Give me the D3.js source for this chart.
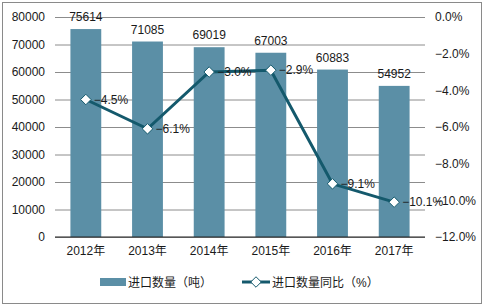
<!DOCTYPE html>
<html>
<head>
<meta charset="utf-8">
<script src="https://cdn.jsdelivr.net/npm/d3@7"></script>
<style>
  body { margin: 0; background: #fff; }
  text { font-family: "Liberation Sans", Arial, "Noto Sans CJK SC", sans-serif; font-size: 12px; fill: #1a1a1a; }
</style>
</head>
<body>
<div id="chart"></div>
<script>
const years = ["2012年", "2013年", "2014年", "2015年", "2016年", "2017年"];
const volume = [75614, 71085, 69019, 67003, 60883, 54952];
const growth = [-4.5, -6.1, -3.0, -2.9, -9.1, -10.1];
const leftTicks = [0, 10000, 20000, 30000, 40000, 50000, 60000, 70000, 80000];
const rightTicks = [0, -2, -4, -6, -8, -10, -12];
const barName = "进口数量（吨）";
const lineName = "进口数量同比（%）";

const width = 484, height = 307;
const margin = {top: 17, right: 59, bottom: 70, left: 55};
const barColor = "#5b8fa6", lineColor = "#14596c";

const svg = d3.select("#chart").append("svg")
    .attr("width", width).attr("height", height);

svg.append("rect")
    .attr("x", 2.5).attr("y", 2.5)
    .attr("width", width - 5).attr("height", height - 6)
    .attr("fill", "none").attr("stroke", "#8a8a8a");

const x = d3.scaleBand().domain(years)
    .range([margin.left, width - margin.right]).paddingInner(0.5).paddingOuter(0.25);
const y = d3.scaleLinear().domain([0, 80000])
    .range([height - margin.bottom, margin.top]);
const y2 = d3.scaleLinear().domain([-12, 0])
    .range([height - margin.bottom, margin.top]);

// gridlines
svg.append("g")
    .attr("transform", "translate(" + margin.left + ",0)")
    .call(d3.axisLeft(y).tickValues(leftTicks).tickSize(-(width - margin.left - margin.right)).tickFormat(""))
    .call(g => g.select(".domain").remove())
    .call(g => g.selectAll("line").attr("stroke", "#8c8c8c"));

// left labels
svg.append("g")
    .attr("transform", "translate(" + (margin.left - 10) + ",0)")
    .call(d3.axisLeft(y).tickValues(leftTicks).tickSize(0).tickPadding(0).tickFormat(d3.format("d")))
    .call(g => g.select(".domain").remove())
    .call(g => g.selectAll("text").attr("font-size", 12).attr("font-family", null));

// right labels
svg.append("g")
    .attr("transform", "translate(" + (width - margin.right + 10) + ",0)")
    .call(d3.axisRight(y2).tickValues(rightTicks).tickSize(0).tickPadding(0).tickFormat(d => d3.format(".1f")(d) + "%"))
    .call(g => g.select(".domain").remove())
    .call(g => g.selectAll("text").attr("font-size", 12).attr("font-family", null));

// bars
svg.selectAll(".bar").data(volume).enter().append("rect")
    .attr("class", "bar")
    .attr("x", (d, i) => x(years[i]))
    .attr("y", d => y(d))
    .attr("width", x.bandwidth())
    .attr("height", d => y(0) - y(d))
    .attr("fill", barColor);

// baseline
svg.append("line")
    .attr("x1", margin.left).attr("x2", width - margin.right)
    .attr("y1", y(0)).attr("y2", y(0))
    .attr("stroke", "#222").attr("stroke-width", 1.2);

// x labels
svg.append("g")
    .attr("transform", "translate(0," + y(0) + ")")
    .call(d3.axisBottom(x).tickSize(0).tickPadding(9))
    .call(g => g.select(".domain").remove())
    .call(g => g.selectAll("text").attr("font-size", 12).attr("font-family", null));

// bar value labels
svg.selectAll(".bar-label").data(volume).enter().append("text")
    .attr("x", (d, i) => x(years[i]) + x.bandwidth() / 2)
    .attr("y", d => y(d) - 8)
    .attr("text-anchor", "middle")
    .text(d => d);

// line
const cx = i => x(years[i]) + x.bandwidth() / 2;
const line = d3.line().x((d, i) => cx(i)).y(d => y2(d));
svg.append("path").datum(growth)
    .attr("d", line)
    .attr("fill", "none")
    .attr("stroke", lineColor)
    .attr("stroke-width", 3);

const diamond = d3.symbol().type(d3.symbolDiamond2).size(70);
svg.selectAll(".mk").data(growth).enter().append("path")
    .attr("transform", (d, i) => "translate(" + cx(i) + "," + y2(d) + ")")
    .attr("d", diamond)
    .attr("fill", "#fff")
    .attr("stroke", lineColor)
    .attr("stroke-width", 1);

svg.selectAll(".line-label").data(growth).enter().append("text")
    .attr("x", (d, i) => cx(i) + 8)
    .attr("y", d => y2(d) + 4)
    .text(d => d3.format(".1f")(d) + "%");

// legend
const ly = 282;
svg.append("rect").attr("x", 100).attr("y", ly - 4).attr("width", 26).attr("height", 8).attr("fill", barColor);
svg.append("text").attr("x", 128).attr("y", ly + 5).attr("font-size", 14).text(barName);
svg.append("line").attr("x1", 242).attr("x2", 270).attr("y1", ly).attr("y2", ly)
    .attr("stroke", lineColor).attr("stroke-width", 3);
svg.append("path").attr("transform", "translate(256," + ly + ")").attr("d", diamond)
    .attr("fill", "#fff").attr("stroke", lineColor);
svg.append("text").attr("x", 272).attr("y", ly + 5).attr("font-size", 14).text(lineName);
</script>
</body>
</html>
